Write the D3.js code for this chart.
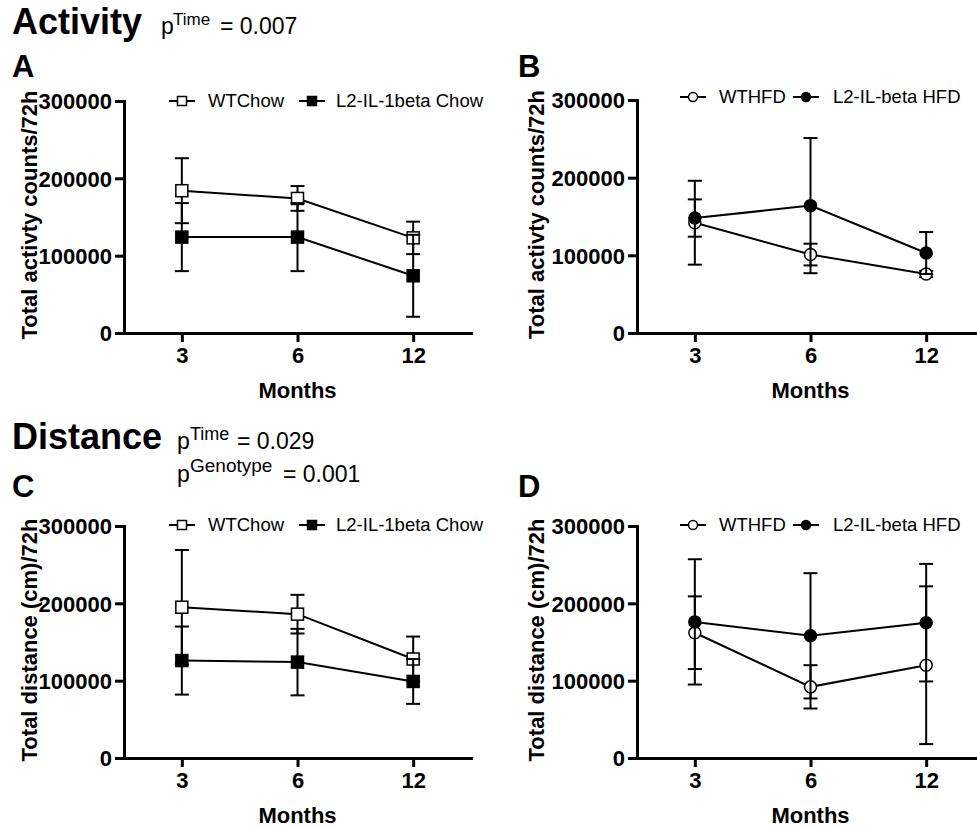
<!DOCTYPE html>
<html>
<head>
<meta charset="utf-8">
<script src="https://cdn.jsdelivr.net/npm/d3@7"></script>
<style>
  html, body { margin: 0; padding: 0; background: #fff; }
  svg { display: block; font-family: "Liberation Sans", Arial, Helvetica, sans-serif; }
</style>
</head>
<body>
<svg id="chart" width="977" height="828"></svg>
<script>
// ---------- data ----------
const months = ["3", "6", "12"];
const yTickValues = [0, 100000, 200000, 300000];

// Panel A: Activity, chow
const actWTChowMean = [184000, 174000, 123000];
const actWTChowErr  = [42000, 16000, 21000];
const actL2ChowMean = [124000, 124000, 74000];
const actL2ChowErr  = [44000, 44000, 53000];

// Panel B: Activity, HFD
const actWTHFDMean = [142000, 101000, 76000];
const actWTHFDErr  = [54000, 14000, 4000];
const actL2HFDMean = [148000, 164000, 103000];
const actL2HFDErr  = [24000, 87000, 27000];

// Panel C: Distance, chow
const distWTChowMean = [195000, 186000, 128000];
const distWTChowErr  = [74000, 25000, 29000];
const distL2ChowMean = [126000, 124000, 99000];
const distL2ChowErr  = [44000, 43000, 29000];

// Panel D: Distance, HFD
const distWTHFDMean = [162000, 92000, 120000];
const distWTHFDErr  = [47000, 28000, 102000];
const distL2HFDMean = [176000, 158000, 175000];
const distL2HFDErr  = [81000, 81000, 76000];

const chowNames = ["WTChow", "L2-IL-1beta Chow"];
const hfdNames  = ["WTHFD", "L2-IL-beta HFD"];

// ---------- drawing ----------
const svg = d3.select("#chart");
const FONT = '"Liberation Sans", Arial, Helvetica, sans-serif';

function drawPanel(cfg) {
  const x = d3.scalePoint().domain(months).range([cfg.x0, cfg.x1]).padding(0.5);
  const y = d3.scaleLinear().domain([0, 300000]).range([cfg.yb, cfg.yt]);
  const g = svg.append("g");

  // axes
  const yAxis = d3.axisLeft(y).tickValues(yTickValues).tickFormat(d3.format("d"))
    .tickSize(9).tickSizeOuter(0).tickPadding(3);
  const xAxis = d3.axisBottom(x).tickSize(9).tickSizeOuter(0).tickPadding(5);

  const ya = g.append("g").attr("transform", `translate(${cfg.x0},0)`).call(yAxis);
  const xa = g.append("g").attr("transform", `translate(0,${cfg.yb})`).call(xAxis);
  [ya, xa].forEach(a => {
    a.attr("font-family", null).attr("font-size", null);
    a.select(".domain").attr("stroke", "#000").attr("stroke-width", 3).attr("stroke-linecap", "square");
    a.selectAll(".tick line").attr("stroke", "#000").attr("stroke-width", 3);
    a.selectAll(".tick text").attr("fill", "#000")
      .style("font-size", "22px").style("font-weight", "bold")
      .style("font-family", FONT);
  });
  ya.selectAll(".tick text").attr("dy", "0.36em");

  // axis titles
  g.append("text")
    .attr("transform", `translate(${cfg.ylabX},${(cfg.yb + cfg.yt) / 2 - 2}) rotate(-90)`)
    .attr("text-anchor", "middle")
    .style("font-size", "22px").style("font-weight", "bold")
    .text(cfg.yLabel);
  g.append("text")
    .attr("x", (cfg.x0 + cfg.x1) / 2).attr("y", cfg.yb + 65)
    .attr("text-anchor", "middle")
    .style("font-size", "22px").style("font-weight", "bold")
    .text("Months");

  // panel letter
  g.append("text").attr("x", cfg.letterX).attr("y", cfg.letterY)
    .style("font-size", "31px").style("font-weight", "bold").text(cfg.letter);

  const line = d3.line().x(d => x(d.m)).y(d => y(d.v));
  const capW = 7;

  cfg.series.forEach(s => {
    const pts = months.map((m, i) => ({ m, v: s.mean[i], e: s.err[i] }));
    const sg = g.append("g");
    sg.append("path").datum(pts).attr("d", line)
      .attr("fill", "none").attr("stroke", "#000").attr("stroke-width", 2);
    const eb = sg.selectAll(".eb").data(pts).enter().append("g");
    eb.append("line").attr("x1", d => x(d.m)).attr("x2", d => x(d.m))
      .attr("y1", d => y(d.v - d.e)).attr("y2", d => y(d.v + d.e))
      .attr("stroke", "#000").attr("stroke-width", 2);
    [1, -1].forEach(sign => {
      eb.append("line").attr("x1", d => x(d.m) - capW).attr("x2", d => x(d.m) + capW)
        .attr("y1", d => y(d.v + sign * d.e)).attr("y2", d => y(d.v + sign * d.e))
        .attr("stroke", "#000").attr("stroke-width", 2);
    });
    drawMarker(sg, pts.map(d => [x(d.m), y(d.v)]), s.shape, s.filled, 12);
  });

  // legend
  cfg.series.forEach((s, i) => {
    const cx = cfg.legSym[i], cy = cfg.legY;
    g.append("line").attr("x1", cx - 13).attr("x2", cx + 13).attr("y1", cy).attr("y2", cy)
      .attr("stroke", "#000").attr("stroke-width", 2);
    drawMarker(g, [[cx, cy]], s.shape, s.filled, 9);
    g.append("text").attr("x", cfg.legText[i]).attr("y", cy).attr("dy", "0.35em")
      .style("font-size", "18.5px").text(s.name);
  });
}

function drawMarker(sel, coords, shape, filled, size) {
  coords.forEach(([cx, cy]) => {
    if (shape === "square") {
      sel.append("rect").attr("x", cx - size / 2).attr("y", cy - size / 2)
        .attr("width", size).attr("height", size)
        .attr("fill", filled ? "#000" : "#fff").attr("stroke", "#000").attr("stroke-width", 1.5);
    } else {
      sel.append("circle").attr("cx", cx).attr("cy", cy).attr("r", size / 2)
        .attr("fill", filled ? "#000" : "#fff").attr("stroke", "#000").attr("stroke-width", 1.5);
    }
  });
}

drawPanel({
  x0: 124, x1: 471, yb: 333, yt: 101, ylabX: 37, letter: "A", letterX: 12, letterY: 77,
  yLabel: "Total activty counts/72h",
  legY: 101, legSym: [182, 312], legText: [208, 336],
  series: [
    { name: chowNames[0], mean: actWTChowMean, err: actWTChowErr, shape: "square", filled: false },
    { name: chowNames[1], mean: actL2ChowMean, err: actL2ChowErr, shape: "square", filled: true }
  ]
});
drawPanel({
  x0: 637, x1: 984, yb: 333, yt: 100, ylabX: 544, letter: "B", letterX: 518, letterY: 77,
  yLabel: "Total activty counts/72h",
  legY: 97, legSym: [693, 806], legText: [719, 833],
  series: [
    { name: hfdNames[0], mean: actWTHFDMean, err: actWTHFDErr, shape: "circle", filled: false },
    { name: hfdNames[1], mean: actL2HFDMean, err: actL2HFDErr, shape: "circle", filled: true }
  ]
});
drawPanel({
  x0: 124, x1: 471, yb: 758, yt: 526, ylabX: 37, letter: "C", letterX: 12, letterY: 497,
  yLabel: "Total distance (cm)/72h",
  legY: 525, legSym: [182, 312], legText: [208, 336],
  series: [
    { name: chowNames[0], mean: distWTChowMean, err: distWTChowErr, shape: "square", filled: false },
    { name: chowNames[1], mean: distL2ChowMean, err: distL2ChowErr, shape: "square", filled: true }
  ]
});
drawPanel({
  x0: 637, x1: 984, yb: 758, yt: 526, ylabX: 544, letter: "D", letterX: 518, letterY: 497,
  yLabel: "Total distance (cm)/72h",
  legY: 525, legSym: [693, 806], legText: [719, 833],
  series: [
    { name: hfdNames[0], mean: distWTHFDMean, err: distWTHFDErr, shape: "circle", filled: false },
    { name: hfdNames[1], mean: distL2HFDMean, err: distL2HFDErr, shape: "circle", filled: true }
  ]
});

// section titles with p-values
function txt(x, y, size, weight, s) {
  svg.append("text").attr("x", x).attr("y", y)
    .style("font-size", size + "px").style("font-weight", weight).text(s);
}
txt(12, 34, 36, "bold", "Activity");
txt(161, 34, 23, "normal", "p");
txt(173, 25, 17, "normal", "Time");
txt(220, 34, 23, "normal", "= 0.007");

txt(12, 449, 36, "bold", "Distance");
txt(177, 449, 23, "normal", "p");
txt(190, 440, 18, "normal", "Time");
txt(237, 449, 23, "normal", "= 0.029");
txt(177, 482, 23, "normal", "p");
txt(190, 472, 19, "normal", "Genotype");
txt(283, 482, 23, "normal", "= 0.001");
</script>
</body>
</html>
